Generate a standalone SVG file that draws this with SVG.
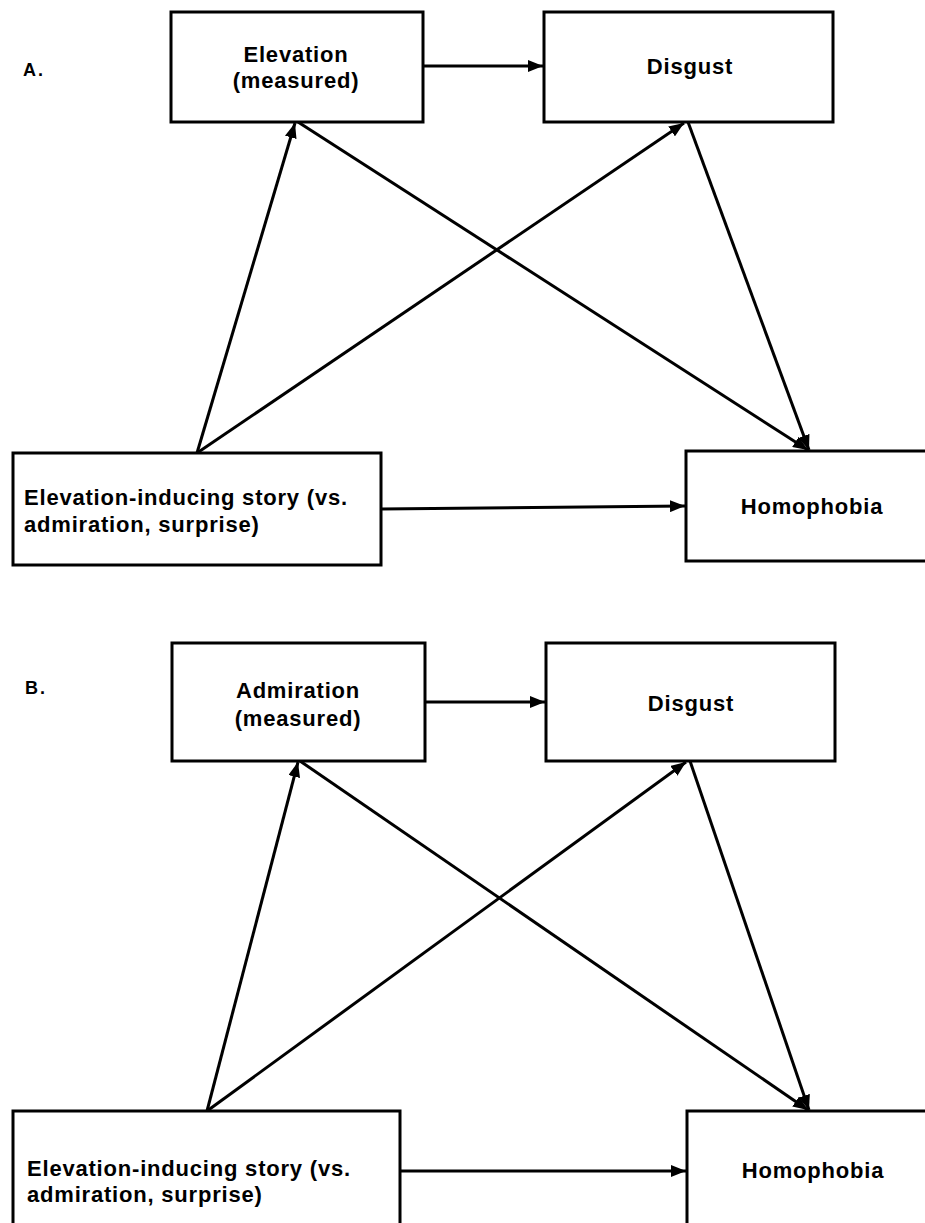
<svg xmlns="http://www.w3.org/2000/svg" width="925" height="1223" viewBox="0 0 925 1223">
<style>
.box{fill:#fff;stroke:#000;stroke-width:3}
.t{font-family:"Liberation Sans",Arial,sans-serif;font-weight:bold;font-size:22px;letter-spacing:0.8px;fill:#000}
.c{text-anchor:middle}
.lbl{font-family:"Liberation Sans",Arial,sans-serif;font-weight:bold;font-size:18px;letter-spacing:2px;fill:#000}
.e{stroke:#000;stroke-width:3;fill:none;marker-end:url(#ah)}
</style>
<defs>
<marker id="ah" markerUnits="userSpaceOnUse" markerWidth="16" markerHeight="12" refX="15" refY="6" orient="auto">
<path d="M0,0 L15,6 L0,12 Z" fill="#000"/>
</marker>
</defs>
<rect width="925" height="1223" fill="#fff"/>
<text class="lbl" x="23" y="76">A.</text>
<text class="lbl" x="25" y="694">B.</text>
<g id="connectors">
<line class="e" x1="423" y1="66" x2="543" y2="66"/>
<line class="e" x1="381" y1="509" x2="685" y2="506"/>
<line class="e" x1="197" y1="453" x2="295" y2="123"/>
<line class="e" x1="197" y1="453" x2="684" y2="123"/>
<line class="e" x1="298" y1="122" x2="808" y2="450"/>
<line class="e" x1="688" y1="122" x2="809" y2="450"/>
<line class="e" x1="425" y1="702" x2="545" y2="702"/>
<line class="e" x1="400" y1="1171" x2="686" y2="1171"/>
<line class="e" x1="207" y1="1111" x2="298" y2="762"/>
<line class="e" x1="207" y1="1111" x2="686" y2="762"/>
<line class="e" x1="300" y1="761" x2="808" y2="1110"/>
<line class="e" x1="690" y1="761" x2="809" y2="1110"/>
</g>
<g id="elevation">
<rect class="box" x="171" y="12" width="252" height="110"/>
<text class="t c" x="296" y="62">Elevation</text>
<text class="t c" x="296" y="88">(measured)</text>
</g>
<g id="disgustA">
<rect class="box" x="544" y="12" width="289" height="110"/>
<text class="t c" x="690" y="74">Disgust</text>
</g>
<g id="storyA">
<rect class="box" x="13" y="453" width="368" height="112"/>
<text class="t" x="24" y="505">Elevation-inducing story (vs.</text>
<text class="t" x="24" y="532">admiration, surprise)</text>
</g>
<g id="homophobiaA">
<rect class="box" x="686" y="451" width="260" height="110"/>
<text class="t c" x="812" y="514">Homophobia</text>
</g>
<g id="admiration">
<rect class="box" x="172" y="643" width="253" height="118"/>
<text class="t c" x="298" y="698">Admiration</text>
<text class="t c" x="298" y="726">(measured)</text>
</g>
<g id="disgustB">
<rect class="box" x="546" y="643" width="289" height="118"/>
<text class="t c" x="691" y="711">Disgust</text>
</g>
<g id="storyB">
<rect class="box" x="13" y="1111" width="387" height="140"/>
<text class="t" x="27" y="1176">Elevation-inducing story (vs.</text>
<text class="t" x="27" y="1202">admiration, surprise)</text>
</g>
<g id="homophobiaB">
<rect class="box" x="687" y="1111" width="260" height="140"/>
<text class="t c" x="813" y="1178">Homophobia</text>
</g>
</svg>
